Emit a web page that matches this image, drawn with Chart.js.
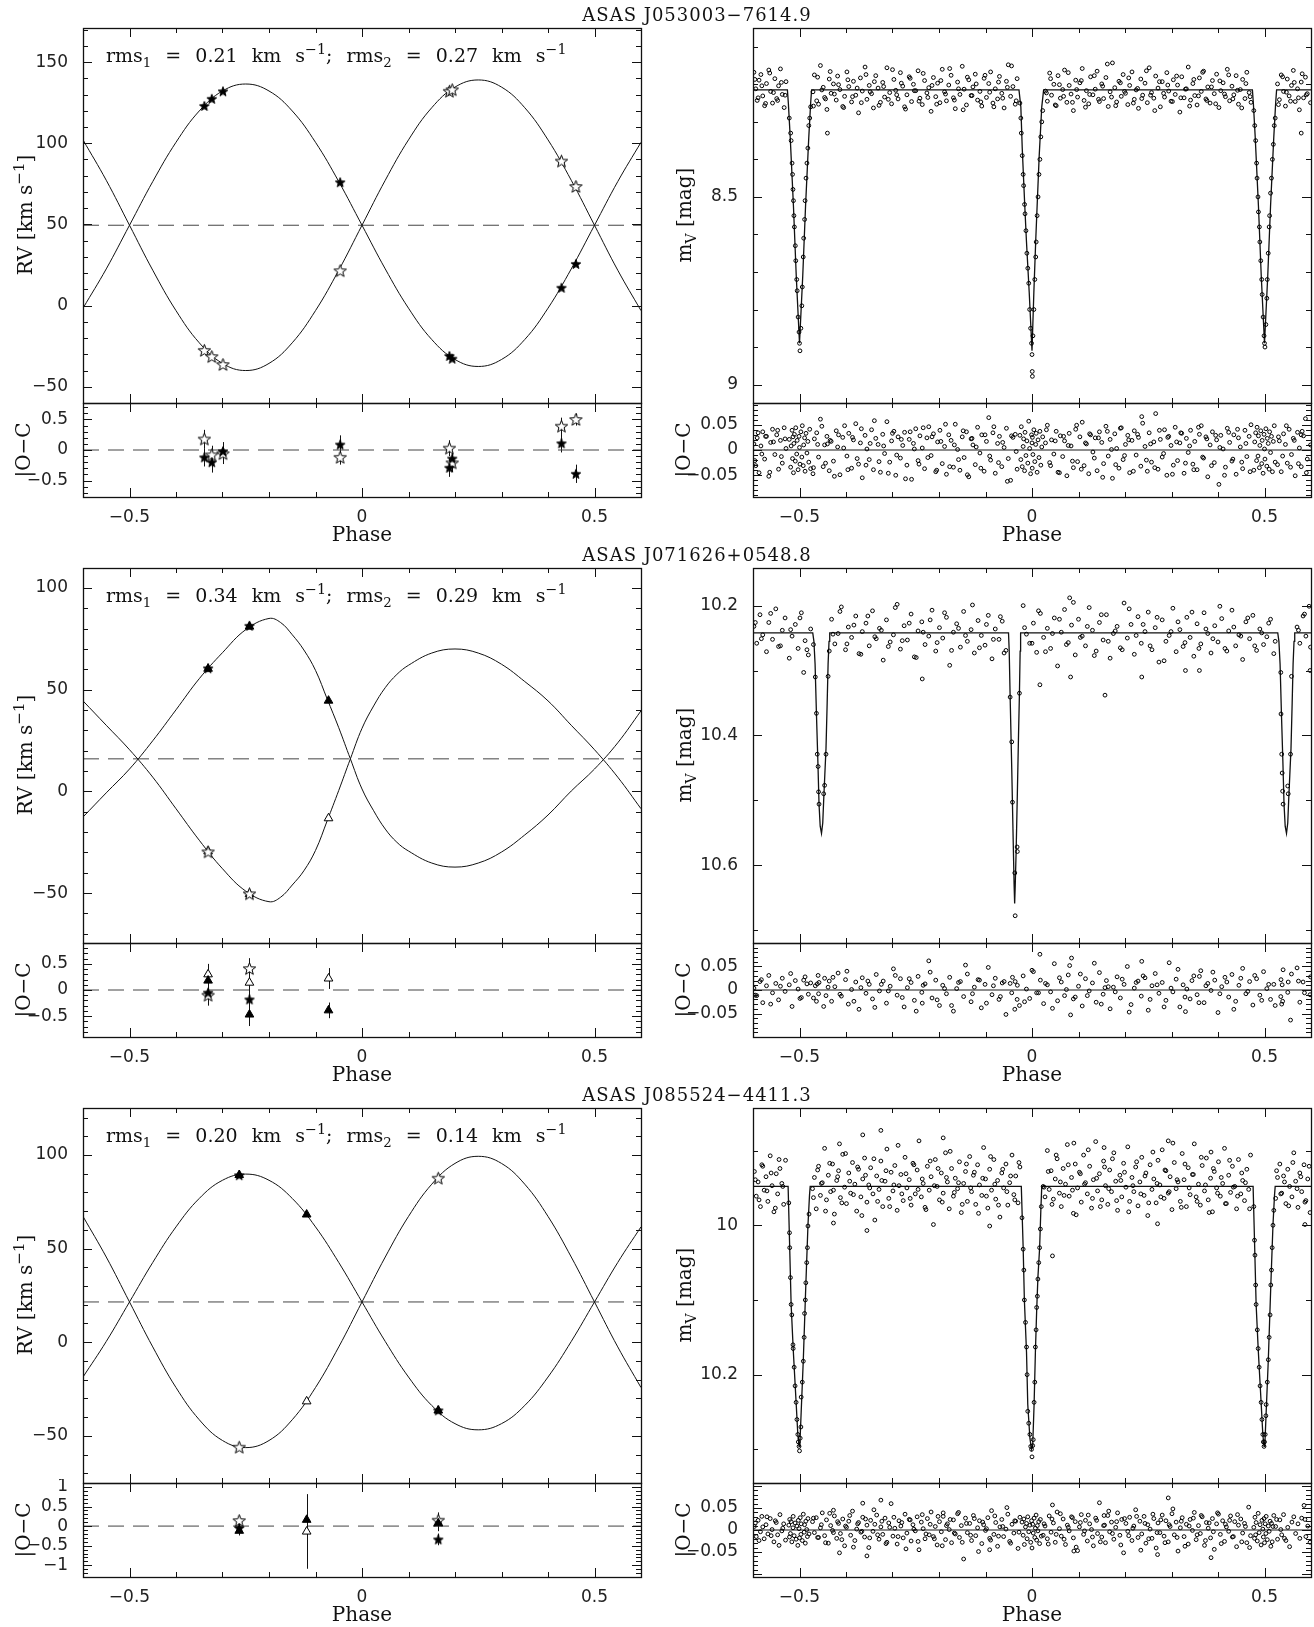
<!DOCTYPE html>
<html>
<head>
<meta charset="utf-8">
<script src="https://cdn.jsdelivr.net/npm/chart.js@4.4.0/dist/chart.umd.min.js"></script>
<style>
  html, body { margin: 0; padding: 0; background: #fff; }
  body { position: relative; width: 1314px; height: 1627px; overflow: hidden; color: #111; }
  canvas { position: absolute; }
  .lbl { position: absolute; white-space: nowrap; line-height: 1; font-family: "DejaVu Serif", serif; font-size: 20px;
         transform: translate(-50%, -50%); }
  .rot { transform: translate(-50%, -50%) rotate(-90deg); }
  .title { font-size: 18px; letter-spacing: 1px; }
  .rms { transform: none; font-size: 19px; word-spacing: 8px; }
  sup { font-size: 0.75em; vertical-align: 0.55em; line-height: 0; }
  sub { font-size: 0.7em; vertical-align: -0.35em; line-height: 0; }
</style>
</head>
<body>
<script>
// ---------------- data ----------------
// common phase axis
const phaseMin = -0.6, phaseMax = 0.6;
const phaseTicks = [-0.5, 0, 0.5];

// RV model grid (rows 1 and 3)
const rvGrid = [-0.6, -0.55, -0.5, -0.45, -0.4, -0.35, -0.3, -0.25, -0.2, -0.15, -0.1, -0.05, 0,
  0.05, 0.1, 0.15, 0.2, 0.25, 0.3, 0.35, 0.4, 0.45, 0.5, 0.55, 0.6];

// Row 1: ASAS J053003-7614.9
const rv1Gamma = 49.5;
const rv1ModelPrim = [-1.6, 22.6, 49.5, 76.4, 100.6, 119.9, 132.2, 136.5, 132.2, 119.9, 100.6, 76.4, 49.5,
  22.6, -1.6, -20.9, -33.2, -37.5, -33.2, -20.9, -1.6, 22.6, 49.5, 76.4, 100.6];
const rv1ModelSec = [102.1, 77.2, 49.5, 21.8, -3.1, -22.9, -35.6, -40, -35.6, -22.9, -3.1, 21.8, 49.5,
  77.2, 102.1, 121.9, 134.6, 139, 134.6, 121.9, 102.1, 77.2, 49.5, 21.8, -3.1];
const rv1ObsPhase = [-0.339, -0.323, -0.299, -0.047, 0.188, 0.194, 0.429, 0.46];
const rv1ObsPrim = [123, 127.4, 132, 76, -31, -32.7, 11, 25.7];
const rv1ObsSec = [-27.6, -31.4, -36.3, 21.5, 132, 133, 89, 73.4];
const rv1ResPrim = [-0.12, -0.2, -0.02, 0.09, -0.29, -0.14, 0.11, -0.39];
const rv1ResSec = [0.18, -0.08, -0.06, -0.12, 0.03, -0.21, 0.39, 0.5];
const rv1ErrPrim = [0.15, 0.17, 0.15, 0.15, 0.15, 0.12, 0.15, 0.15];
const rv1ErrSec = [0.15, 0.15, 0.17, 0.12, 0.13, 0.15, 0.14, 0.1];

const lc1ModelPhase = [-0.6, -0.526, -0.524, -0.52, -0.513, -0.507, -0.5, -0.493, -0.487, -0.48, -0.476, -0.474,
  -0.028, -0.024, -0.021, -0.0155, -0.012, -0.006, 0, 0.004, 0.008, 0.011, 0.0155, 0.021, 0.025,
  0.474, 0.476, 0.48, 0.487, 0.493, 0.5, 0.507, 0.513, 0.52, 0.524, 0.526, 0.6];
const lc1ModelMag = [8.215, 8.215, 8.25, 8.34, 8.525, 8.71, 8.89, 8.71, 8.525, 8.34, 8.25, 8.215,
  8.215, 8.26, 8.37, 8.525, 8.617, 8.754, 8.91, 8.754, 8.617, 8.525, 8.39, 8.26, 8.215,
  8.215, 8.25, 8.34, 8.525, 8.71, 8.89, 8.71, 8.525, 8.34, 8.25, 8.215, 8.215];
const lc1Phase = [-0.598, -0.594, -0.591, -0.587, -0.583, -0.579, -0.575, -0.571, -0.566, -0.562, -0.558, -0.553,
  -0.549, -0.545, -0.541, -0.537, -0.533, -0.529,
  -0.471, -0.468, -0.463, -0.459, -0.455, -0.449, -0.446, -0.441, -0.436, -0.432, -0.427, -0.421, -0.418, -0.413,
  -0.407, -0.403, -0.398, -0.394, -0.388, -0.384, -0.379, -0.373, -0.369, -0.365, -0.359, -0.355, -0.35, -0.345,
  -0.341, -0.336, -0.331, -0.326, -0.321, -0.317, -0.312, -0.306, -0.302, -0.297, -0.293, -0.288, -0.283, -0.278,
  -0.274, -0.269, -0.264, -0.259, -0.255, -0.25, -0.245, -0.241, -0.236, -0.231, -0.226, -0.222, -0.217, -0.212,
  -0.207, -0.203, -0.198, -0.193, -0.188, -0.184, -0.179, -0.174, -0.169, -0.165, -0.16, -0.155, -0.15, -0.146,
  -0.141, -0.136, -0.131, -0.127, -0.122, -0.117, -0.112, -0.108, -0.103, -0.098, -0.093, -0.089, -0.084, -0.079,
  -0.074, -0.07, -0.065, -0.06, -0.055, -0.051, -0.046, -0.041, -0.036, -0.032,
  0.029, 0.033, 0.038, 0.042, 0.047, 0.052, 0.056, 0.061, 0.066, 0.07, 0.075, 0.08, 0.084, 0.089, 0.094, 0.098,
  0.103, 0.108, 0.112, 0.117, 0.122, 0.126, 0.131, 0.136, 0.14, 0.145, 0.15, 0.154, 0.159, 0.164, 0.168, 0.173,
  0.178, 0.182, 0.187, 0.192, 0.196, 0.201, 0.206, 0.21, 0.215, 0.22, 0.224, 0.229, 0.234, 0.238, 0.243, 0.248,
  0.252, 0.257, 0.262, 0.266, 0.271, 0.276, 0.28, 0.285, 0.29, 0.294, 0.299, 0.304, 0.308, 0.313, 0.318, 0.322,
  0.327, 0.332, 0.336, 0.341, 0.346, 0.35, 0.355, 0.36, 0.364, 0.369, 0.374, 0.378, 0.383, 0.388, 0.392, 0.397,
  0.402, 0.406, 0.411, 0.416, 0.42, 0.425, 0.43, 0.434, 0.439, 0.444, 0.448, 0.453, 0.458, 0.462, 0.467, 0.471,
  0.528, 0.532, 0.536, 0.541, 0.545, 0.549, 0.553, 0.558, 0.562, 0.566, 0.571, 0.575, 0.579, 0.584, 0.588, 0.592, 0.597];
const lc1Mag = [8.168, 8.212, 8.243, 8.189, 8.174, 8.231, 8.257, 8.198, 8.162, 8.219, 8.250, 8.185, 8.238, 8.204, 8.159,
  8.227, 8.262, 8.193, 8.220, 8.175, 8.244, 8.253, 8.150, 8.208, 8.235, 8.267, 8.186, 8.224, 8.199, 8.242,
  8.178, 8.214, 8.259, 8.232, 8.167, 8.206, 8.247, 8.192, 8.229, 8.276, 8.183, 8.218, 8.154, 8.240, 8.203,
  8.225, 8.263, 8.177, 8.210, 8.248, 8.195, 8.234, 8.156, 8.222, 8.252, 8.187, 8.216, 8.239, 8.169, 8.205,
  8.260, 8.228, 8.180, 8.246, 8.200, 8.217, 8.164, 8.237, 8.254, 8.190, 8.223, 8.209, 8.272, 8.182, 8.233,
  8.197, 8.249, 8.160, 8.220, 8.244, 8.202, 8.176, 8.236, 8.265, 8.194, 8.227, 8.152, 8.213, 8.255, 8.188,
  8.230, 8.207, 8.173, 8.242, 8.219, 8.258, 8.184, 8.235, 8.198, 8.167, 8.250, 8.212, 8.239, 8.179, 8.224,
  8.263, 8.192, 8.148, 8.232, 8.206, 8.253, 8.185, 8.218, 8.245, 8.170, 8.229, 8.200, 8.257, 8.177, 8.237,
  8.214, 8.162, 8.248, 8.203, 8.226, 8.270, 8.189, 8.234, 8.196, 8.158, 8.243, 8.217, 8.252, 8.180, 8.228,
  8.213, 8.165, 8.246, 8.199, 8.238, 8.182, 8.259, 8.220, 8.143, 8.209, 8.247, 8.192, 8.232, 8.174, 8.224,
  8.254, 8.203, 8.167, 8.240, 8.215, 8.264, 8.186, 8.229, 8.197, 8.249, 8.156, 8.222, 8.237, 8.178, 8.210,
  8.260, 8.193, 8.234, 8.169, 8.218, 8.245, 8.188, 8.227, 8.202, 8.274, 8.180, 8.236, 8.212, 8.154, 8.242,
  8.198, 8.230, 8.255, 8.183, 8.219, 8.165, 8.239, 8.207, 8.250, 8.190, 8.225, 8.173, 8.262, 8.217, 8.196,
  8.233, 8.160, 8.244, 8.205, 8.228, 8.177, 8.253, 8.214, 8.187, 8.238, 8.168, 8.222, 8.248, 8.199,
  8.241, 8.175, 8.219, 8.258, 8.186, 8.231, 8.203, 8.163, 8.246, 8.212, 8.268, 8.194, 8.236, 8.181, 8.225];
const lc1Res = [0.012, -0.031, 0.024, -0.045, 0.008, 0.036, -0.018, 0.027, -0.052, 0.015, 0.041, -0.009, 0.030, -0.038, 0.019,
  -0.026, 0.044, 0.003, -0.047, 0.022, 0.034, -0.014, 0.061, -0.033, 0.010, 0.027, -0.041, 0.017, -0.022, 0.038,
  0.006, -0.049, 0.025, 0.048, -0.012, 0.033, -0.036, 0.020, 0.052, -0.028, 0.014, -0.055, 0.029, 0.002, -0.019,
  0.040, -0.039, 0.023, 0.011, -0.044, 0.031, -0.007, 0.056, -0.024, 0.018, 0.037, -0.050, 0.026, -0.016, 0.009,
  0.035, -0.030, 0.021, -0.058, 0.013, 0.042, -0.021, 0.028, 0.004, -0.037, 0.024, 0.046, -0.011, 0.032, -0.043,
  0.016, 0.039, -0.027, 0.007, -0.048, 0.030, 0.019, -0.034, 0.051, 0.001, -0.040, 0.026, -0.015, 0.036, -0.053,
  0.022, 0.010, -0.029, 0.045, -0.006, 0.030, -0.042, 0.017, 0.064, -0.020, 0.034, -0.046, 0.013, 0.027, -0.033,
  0.005, 0.043, -0.017, -0.060, 0.025, 0.031, -0.038, 0.014, 0.049, -0.025, 0.020, -0.008, 0.037, -0.044, 0.028,
  -0.013, 0.018, -0.051, 0.033, 0.008, -0.035, 0.041, -0.023, 0.026, 0.055, -0.031, 0.012, -0.047, 0.030, -0.004,
  0.024, -0.041, 0.036, 0.015, -0.027, 0.047, -0.012, 0.021, -0.056, 0.032, 0.003, -0.036, 0.044, -0.019, 0.011,
  0.029, -0.045, 0.019, 0.038, -0.010, 0.025, -0.032, 0.053, 0.007, -0.042, 0.034, -0.024, 0.016, 0.072, -0.038,
  0.021, -0.014, 0.040, -0.050, 0.027, 0.009, -0.030, 0.045, -0.021, 0.014, 0.033, -0.046, 0.023, -0.005, 0.039,
  -0.028, 0.017, -0.039, 0.031, 0.048, -0.016, 0.026, -0.053, 0.010, 0.036, -0.025, 0.020, -0.068, 0.029, 0.002,
  -0.034, 0.043, 0.015, -0.022, 0.030, -0.048, 0.024, 0.006, -0.037, 0.039, -0.013, 0.027, 0.050, -0.029,
  0.018, -0.043, 0.032, 0.011, -0.026, 0.041, -0.009, 0.023, -0.051, 0.035, 0.004, -0.033, 0.028, 0.062, -0.018];
// second observing season
const lc1PhaseB = [-0.596, -0.589, -0.581, -0.573, -0.564, -0.556, -0.547, -0.539, -0.531,
  -0.47, -0.461, -0.452, -0.444, -0.434, -0.425, -0.416, -0.405, -0.396, -0.386, -0.376, -0.367, -0.357, -0.348,
  -0.339, -0.329, -0.319, -0.309, -0.3, -0.291, -0.281, -0.272, -0.262, -0.253, -0.243, -0.234, -0.224, -0.215,
  -0.205, -0.196, -0.186, -0.177, -0.167, -0.158, -0.148, -0.139, -0.129, -0.12, -0.11, -0.101, -0.091, -0.082,
  -0.072, -0.063, -0.053, -0.044, -0.034,
  0.031, 0.04, 0.05, 0.059, 0.068, 0.078, 0.087, 0.096, 0.106, 0.115, 0.124, 0.134, 0.143, 0.152, 0.162, 0.171,
  0.18, 0.19, 0.199, 0.208, 0.218, 0.227, 0.236, 0.246, 0.255, 0.264, 0.274, 0.283, 0.292, 0.302, 0.311, 0.32,
  0.33, 0.339, 0.348, 0.358, 0.367, 0.376, 0.386, 0.395, 0.404, 0.414, 0.423, 0.432, 0.442, 0.451, 0.46, 0.469,
  0.53, 0.539, 0.547, 0.556, 0.564, 0.573, 0.581, 0.59, 0.599];
const lc1MagB = [8.187, 8.236, 8.204, 8.251, 8.170, 8.222, 8.243, 8.195, 8.229,
  8.258, 8.181, 8.215, 8.239, 8.166, 8.226, 8.201, 8.262, 8.188, 8.233, 8.210, 8.249, 8.174, 8.220, 8.193,
  8.256, 8.206, 8.240, 8.161, 8.228, 8.197, 8.266, 8.184, 8.217, 8.245, 8.171, 8.235, 8.203, 8.253, 8.190,
  8.226, 8.158, 8.242, 8.212, 8.268, 8.181, 8.230, 8.199, 8.247, 8.176, 8.221, 8.260, 8.194, 8.237, 8.208,
  8.151, 8.244,
  8.223, 8.185, 8.255, 8.201, 8.232, 8.169, 8.248, 8.214, 8.190, 8.261, 8.227, 8.177, 8.240, 8.205, 8.146,
  8.234, 8.257, 8.196, 8.219, 8.183, 8.250, 8.211, 8.238, 8.164, 8.229, 8.270, 8.193, 8.224, 8.202, 8.246,
  8.178, 8.236, 8.213, 8.258, 8.187, 8.231, 8.168, 8.243, 8.207, 8.252, 8.191, 8.226, 8.175, 8.239, 8.216,
  8.263, 8.198, 8.233,
  8.254, 8.180, 8.221, 8.245, 8.195, 8.236, 8.172, 8.228, 8.249];
const lc1ResB = [-0.021, 0.034, -0.008, 0.027, -0.044, 0.016, 0.039, -0.013, 0.022,
  -0.035, 0.011, 0.047, -0.026, 0.019, -0.052, 0.030, 0.004, -0.039, 0.025, -0.017, 0.042, -0.030, 0.013, 0.058,
  -0.023, 0.008, -0.046, 0.033, -0.010, 0.021, -0.057, 0.036, 0.002, -0.028, 0.044, -0.015, 0.026, -0.040, 0.017,
  0.051, -0.033, 0.010, -0.019, 0.038, -0.049, 0.023, 0.006, -0.036, 0.030, -0.012, 0.046, -0.025, 0.015, -0.062,
  0.028, -0.003,
  0.040, -0.031, 0.018, -0.045, 0.027, 0.009, -0.022, 0.049, -0.038, 0.014, 0.032, -0.016, 0.024, -0.054, 0.037,
  0.001, -0.029, 0.043, -0.011, 0.020, -0.042, 0.031, 0.066, -0.020, 0.012, -0.035, 0.039, -0.007, 0.025, -0.048,
  0.016, 0.034, -0.026, 0.008, -0.039, 0.045, -0.014, 0.022, -0.031, 0.029, 0.005, -0.050, 0.035, -0.018, 0.041,
  -0.024, 0.013, -0.043,
  0.026, -0.012, 0.048, -0.034, 0.019, -0.027, 0.037, -0.045, 0.010];
// points inside the eclipses and a few outliers
const lc1EclPhase = [-0.522, -0.519, -0.518, -0.516, -0.515, -0.514, -0.513, -0.512, -0.511, -0.509,
  -0.508, -0.506, -0.505, -0.503, -0.501, -0.5, -0.499, -0.497, -0.495, -0.494,
  -0.492, -0.491, -0.489, -0.488, -0.486, -0.484, -0.482, -0.48, -0.478, -0.476, -0.44,
  -0.026, -0.024, -0.023, -0.021, -0.019, -0.018, -0.016, -0.015, -0.013, -0.011,
  -0.009, -0.007, -0.005, -0.003, -0.001, 0, 0.0005, 0.0008, 0.002, 0.004,
  0.006, 0.008, 0.009, 0.011, 0.013, 0.015, 0.017, 0.019, 0.021, 0.023,
  0.477, 0.479, 0.481, 0.483, 0.484, 0.486, 0.487, 0.489, 0.49, 0.492,
  0.494, 0.495, 0.497, 0.499, 0.5, 0.501, 0.503, 0.505, 0.506, 0.508,
  0.51, 0.511, 0.513, 0.515, 0.517, 0.519, 0.521, 0.523, 0.579];
const lc1EclMag = [8.29, 8.33, 8.35, 8.41, 8.44, 8.48, 8.51, 8.55, 8.58, 8.63,
  8.67, 8.72, 8.75, 8.82, 8.86, 8.89, 8.91, 8.85, 8.79, 8.74,
  8.66, 8.61, 8.56, 8.51, 8.45, 8.41, 8.37, 8.31, 8.29, 8.26, 8.33,
  8.25, 8.29, 8.33, 8.39, 8.44, 8.47, 8.52, 8.545, 8.59, 8.65,
  8.69, 8.73, 8.80, 8.85, 8.89, 8.92, 8.965, 8.978, 8.87, 8.80,
  8.72, 8.66, 8.62, 8.55, 8.50, 8.44, 8.40, 8.34, 8.30, 8.27,
  8.27, 8.31, 8.35, 8.41, 8.45, 8.50, 8.54, 8.58, 8.62, 8.67,
  8.72, 8.76, 8.82, 8.87, 8.89, 8.90, 8.84, 8.77, 8.72, 8.65,
  8.58, 8.55, 8.49, 8.45, 8.40, 8.36, 8.31, 8.29, 8.33];
const lc1EclRes = [0.021, -0.034, 0.008, 0.039, -0.017, 0.026, -0.045, 0.013, 0.031, -0.022,
  0.044, -0.008, 0.019, -0.039, 0.027, 0.005, -0.028, 0.036, -0.014, 0.048,
  -0.031, 0.010, 0.024, -0.042, 0.033, -0.006, 0.017, -0.024, 0.041, -0.037, 0.012,
  0.029, -0.019, 0.046, -0.033, 0.007, 0.022, -0.041, 0.035, -0.011, 0.018,
  -0.026, 0.057, 0.003, -0.047, 0.030, 0.014, -0.036, 0.025, -0.009, 0.040,
  -0.023, 0.011, 0.033, -0.044, 0.020, -0.015, 0.037, -0.030, 0.006, 0.026,
  -0.040, 0.016, 0.034, -0.021, 0.045, -0.012, 0.028, -0.035, 0.009, 0.038,
  -0.027, 0.019, -0.046, 0.031, 0.002, -0.018, 0.042, -0.032, 0.023, 0.013,
  -0.038, 0.036, -0.005, 0.027, -0.043, 0.017, 0.048, -0.024, 0.030];

// Row 2: ASAS J071626+0548.8
const rv2Gamma = 16;
const rv2Grid = [-0.6, -0.55, -0.5, -0.45, -0.4, -0.35, -0.3, -0.25, -0.2, -0.175, -0.15, -0.125, -0.1, -0.075,
  -0.05, -0.025, 0, 0.025, 0.05, 0.075, 0.1, 0.15, 0.2, 0.25, 0.3, 0.35, 0.4, 0.45, 0.5, 0.55, 0.6];
const rv2ModelPrim = [-12.6, -0.7, 11, 24.9, 40.1, 55.4, 68.2, 79.5, 85, 83, 77, 69.5, 59.5, 45.5,
  31.3, 16, 1.2, -9.5, -18.5, -25, -29.3, -35.2, -37.2, -35.2, -29.8, -21.4, -11.6, 0.2, 11, 23.9, 39.6];
const rv2ModelSec = [44.5, 32.5, 20.5, 7, -8.5, -24, -38, -49, -54.2, -52, -46, -39, -29, -14.5,
  0.5, 16, 31, 42, 51, 57.5, 62, 68, 70, 68, 62.5, 54, 44.5, 32.5, 20.5, 7, -8.5];
const rv2StarPhase = [-0.331, -0.242];
const rv2StarPrim = [60.5, 81.4];
const rv2StarSec = [-29.7, -50.3];
const rv2StarResPrim = [-0.05, -0.18];
const rv2StarResSec = [-0.1, 0.41];
const rv2TriPhase = [-0.331, -0.242, -0.072];
const rv2TriPrim = [60.3, 81.0, 44.6];
const rv2TriSec = [-29.5, -50.5, -13.2];
const rv2TriResPrim = [0.18, -0.47, -0.39];
const rv2TriResSec = [0.3, 0.14, 0.22];
const rv2ErrStar = [0.2, 0.2];
const rv2ErrTriPrim = [0.2, 0.22, 0.15];
const rv2ErrTriSec = [0.2, 0.2, 0.2];

const lc2ModelPhase = [-0.6, -0.4715, -0.469, -0.4665, -0.4636, -0.4605, -0.458, -0.4555, -0.4527, -0.45, -0.448,
  -0.4455, -0.443, -0.4405, -0.4385, -0.4365, -0.435,
  -0.0505, -0.049, -0.047, -0.0436, -0.0405, -0.0385, -0.0373, -0.036, -0.034, -0.0315, -0.029, -0.027, -0.0255, -0.0245,
  0.5285, 0.531, 0.5335, 0.5364, 0.5395, 0.542, 0.5445, 0.5473, 0.55, 0.552, 0.5545, 0.557, 0.5595, 0.5615, 0.5635, 0.565, 0.6];
const lc2ModelMag = [10.242, 10.242, 10.255, 10.29, 10.366, 10.44, 10.506, 10.54, 10.551, 10.535, 10.50,
  10.46, 10.42, 10.35, 10.29, 10.255, 10.242,
  10.242, 10.27, 10.341, 10.45, 10.56, 10.63, 10.659, 10.63, 10.575, 10.49, 10.40, 10.335, 10.27, 10.242,
  10.242, 10.255, 10.29, 10.366, 10.44, 10.506, 10.54, 10.551, 10.535, 10.50, 10.46, 10.42, 10.35, 10.29, 10.255, 10.242, 10.242];
const lc2Phase = [-0.598, -0.592, -0.585, -0.579, -0.571, -0.566, -0.558, -0.551, -0.545, -0.537, -0.531, -0.522,
  -0.516, -0.509, -0.503, -0.496, -0.488, -0.481, -0.476,
  -0.431, -0.424, -0.417, -0.41, -0.401, -0.395, -0.388, -0.379, -0.372, -0.365, -0.357, -0.35, -0.343, -0.335,
  -0.328, -0.32, -0.313, -0.305, -0.298, -0.29, -0.283, -0.275, -0.268, -0.26, -0.253, -0.245, -0.237, -0.23,
  -0.222, -0.215, -0.207, -0.199, -0.192, -0.184, -0.177, -0.169, -0.162, -0.154, -0.147, -0.139, -0.131, -0.124,
  -0.116, -0.109, -0.101, -0.094, -0.086, -0.079, -0.071, -0.064, -0.056,
  -0.019, -0.012, -0.005, 0.003, 0.01, 0.018, 0.025, 0.033, 0.04, 0.048, 0.055, 0.063, 0.07, 0.078, 0.085, 0.093,
  0.1, 0.108, 0.115, 0.123, 0.13, 0.138, 0.145, 0.153, 0.16, 0.168, 0.175, 0.183, 0.19, 0.198, 0.205, 0.213, 0.22,
  0.228, 0.235, 0.243, 0.25, 0.258, 0.265, 0.273, 0.28, 0.288, 0.295, 0.303, 0.31, 0.318, 0.325, 0.333, 0.34,
  0.348, 0.355, 0.363, 0.37, 0.378, 0.385, 0.393, 0.4, 0.408, 0.415, 0.423, 0.43, 0.438, 0.445, 0.453, 0.46,
  0.468, 0.475, 0.483, 0.49, 0.498, 0.505, 0.513, 0.52,
  0.57, 0.576, 0.583, 0.589, 0.596];
const lc2Mag = [10.232, 10.258, 10.214, 10.245, 10.271, 10.226, 10.252, 10.205, 10.263, 10.238, 10.219, 10.281,
  10.247, 10.229, 10.266, 10.211, 10.254, 10.276, 10.236,
  10.221, 10.259, 10.243, 10.202, 10.268, 10.233, 10.249, 10.216, 10.274, 10.240, 10.227, 10.262, 10.208, 10.251,
  10.235, 10.284, 10.222, 10.256, 10.245, 10.198, 10.267, 10.231, 10.253, 10.213, 10.279, 10.239, 10.225, 10.260,
  10.247, 10.207, 10.270, 10.234, 10.250, 10.218, 10.292, 10.241, 10.228, 10.264, 10.209, 10.255, 10.237, 10.273,
  10.223, 10.246, 10.261, 10.215, 10.282, 10.236, 10.252, 10.224, 10.269,
  10.200, 10.244, 10.258, 10.227, 10.272, 10.212, 10.249, 10.235, 10.266, 10.219, 10.293, 10.241, 10.206, 10.257,
  10.230, 10.276, 10.221, 10.247, 10.262, 10.203, 10.238, 10.270, 10.226, 10.253, 10.214, 10.281, 10.243, 10.232,
  10.265, 10.196, 10.250, 10.229, 10.275, 10.217, 10.258, 10.240, 10.210, 10.268, 10.234, 10.287, 10.222, 10.255,
  10.246, 10.204, 10.271, 10.237, 10.263, 10.218, 10.249, 10.278, 10.228, 10.259, 10.211, 10.243, 10.273, 10.231,
  10.256, 10.220, 10.266, 10.239, 10.207, 10.262, 10.245, 10.283, 10.225, 10.251, 10.215, 10.269, 10.236, 10.260,
  10.248, 10.221, 10.274,
  10.233, 10.258, 10.216, 10.247, 10.201];
const lc2Res = [0.004, -0.012, 0.018, -0.027, 0.009, 0.031, -0.006, 0.014, -0.021, 0.025, -0.003, 0.011, -0.035,
  0.020, 0.002, -0.016, 0.028, -0.009, 0.015,
  -0.024, 0.007, 0.036, -0.013, 0.022, -0.030, 0.001, 0.017, -0.041, 0.026, -0.007, 0.012, -0.019, 0.033, -0.002,
  0.019, -0.028, 0.008, 0.045, -0.011, 0.024, -0.036, 0.005, 0.016, -0.022, 0.029, -0.005, 0.013, 0.062, -0.017,
  0.021, -0.033, 0.010, -0.008, 0.027, -0.045, 0.003, 0.018, -0.014, 0.034, -0.025, 0.006, 0.022, -0.038, 0.012,
  0.048, -0.010, 0.025, -0.020, 0.015, -0.052, 0.030,
  0.002, -0.018, 0.039, -0.006, 0.021, -0.029, 0.011, -0.004, 0.056, -0.023, 0.017, -0.012, 0.032, 0.068, -0.015,
  0.008, -0.034, 0.024, -0.002, 0.015, -0.026, 0.037, -0.009, 0.020, -0.040, 0.006, 0.028, -0.017, 0.012, 0.050,
  -0.031, 0.004, 0.019, -0.013, 0.026, -0.043, 0.009, 0.035, -0.007, 0.016, -0.022, 0.058, -0.004, 0.023, -0.036,
  0.011, 0.002, -0.019, 0.030, -0.010, 0.041, -0.027, 0.014, -0.001, 0.021, -0.048, 0.007, 0.027, -0.015, 0.033,
  -0.024, 0.010, 0.046, -0.008, 0.018, -0.032, 0.024, -0.011, 0.039, 0.003,
  -0.020, 0.012, 0.047, -0.026, 0.017];
const lc2PhaseB = [-0.595, -0.582, -0.562, -0.541, -0.519, -0.499, -0.484,
  -0.428, -0.413, -0.398, -0.383, -0.368, -0.353, -0.338, -0.324, -0.309, -0.294, -0.279, -0.264, -0.249, -0.234,
  -0.219, -0.204, -0.188, -0.173, -0.158, -0.143, -0.128, -0.113, -0.098, -0.083, -0.068, -0.06,
  -0.016, 0.0, 0.014, 0.029, 0.044, 0.059, 0.074, 0.089, 0.104, 0.119, 0.134, 0.149, 0.164, 0.179, 0.194, 0.209,
  0.224, 0.239, 0.254, 0.269, 0.284, 0.299, 0.314, 0.329, 0.344, 0.359, 0.374, 0.389, 0.404, 0.419, 0.434, 0.449,
  0.464, 0.479, 0.494, 0.509, 0.523,
  0.573, 0.586, 0.599];
const lc2MagB = [10.226, 10.251, 10.212, 10.262, 10.237, 10.219, 10.268,
  10.244, 10.209, 10.259, 10.230, 10.275, 10.216, 10.248, 10.238, 10.263, 10.203, 10.254, 10.227, 10.280, 10.241,
  10.222, 10.257, 10.211, 10.269, 10.235, 10.246, 10.199, 10.265, 10.229, 10.252, 10.217, 10.273,
  10.234, 10.258, 10.208, 10.271, 10.243, 10.221, 10.260, 10.195, 10.249, 10.232, 10.277, 10.214, 10.255, 10.239,
  10.268, 10.205, 10.246, 10.229, 10.262, 10.218, 10.285, 10.240, 10.225, 10.257, 10.210, 10.266, 10.236, 10.251,
  10.201, 10.270, 10.233, 10.247, 10.219, 10.262, 10.242, 10.227, 10.255,
  10.238, 10.213, 10.264];
const lc2ResB = [-0.011, 0.022, -0.030, 0.008, 0.035, -0.018, 0.013,
  0.027, -0.009, 0.040, -0.024, 0.005, 0.019, -0.037, 0.012, -0.002, 0.031, -0.016, 0.024, -0.045, 0.010, 0.038,
  -0.021, 0.003, -0.033, 0.016, 0.053, -0.008, 0.021, -0.028, 0.009, -0.014,
  0.018, -0.025, 0.042, -0.006, 0.014, -0.039, 0.026, 0.001, -0.019, 0.034, -0.012, 0.057, -0.030, 0.007, -0.004,
  0.023, -0.047, 0.016, 0.030, -0.020, 0.011, -0.036, 0.004, 0.044, -0.015, 0.020, -0.027, 0.009, 0.038, -0.008,
  0.017, -0.041, 0.025, -0.003, 0.031, -0.022, 0.012, -0.033,
  0.019, -0.006, 0.028];
const lc2EclPhase = [-0.491, -0.470, -0.466, -0.4636, -0.4618, -0.4600, -0.4590, -0.4580, -0.4480, -0.4460, -0.4430,
  -0.4385, -0.436,
  -0.236, -0.047, -0.0436, -0.042, -0.037, -0.0362, -0.032, -0.0315, -0.027,
  0.017, 0.081, 0.083, 0.157, 0.236, 0.33, 0.36,
  0.535, 0.5355, 0.537, 0.538, 0.539, 0.540, 0.550, 0.551, 0.556, 0.558, 0.598];
const lc2EclMag = [10.303, 10.26, 10.31, 10.366, 10.429, 10.448, 10.487, 10.506, 10.49, 10.477, 10.429,
  10.309, 10.27,
  10.313, 10.341, 10.41, 10.503, 10.612, 10.678, 10.572, 10.579, 10.335,
  10.322, 10.188, 10.31, 10.338, 10.31, 10.30, 10.30,
  10.303, 10.367, 10.429, 10.458, 10.486, 10.506, 10.478, 10.49, 10.429, 10.309, 10.30];
const lc2EclRes = [0.021, -0.017, 0.009, -0.024, 0.013, 0.031, -0.008, 0.016, -0.035, 0.025, -0.012, 0.006, 0.019,
  -0.028, 0.014, -0.006, 0.027, -0.041, 0.018, -0.020, 0.010, -0.033,
  0.076, 0.052, -0.053, 0.005, 0.061, -0.046, 0.029,
  -0.014, 0.022, -0.030, 0.011, -0.024, 0.043, -0.005, 0.017, -0.064, 0.034, -0.010];

// Row 3: ASAS J085524-4411.3
const rv3Gamma = 21.5;
const rv3ModelPrim = [-18.6, 0.4, 21.5, 42.6, 61.6, 76.8, 86.5, 89.8, 86.5, 76.8, 61.6, 42.6, 21.5,
  0.4, -18.6, -33.8, -43.5, -46.8, -43.5, -33.8, -18.6, 0.4, 21.5, 42.6, 61.6];
const rv3ModelSec = [67.2, 45.5, 21.5, -2.5, -24.2, -41.4, -52.5, -56.3, -52.5, -41.4, -24.2, -2.5, 21.5,
  45.5, 67.2, 84.4, 95.5, 99.3, 95.5, 84.4, 67.2, 45.5, 21.5, -2.5, -24.2];
const rv3StarPhasePrim = [-0.264, 0.164];
const rv3StarPrim = [89.2, -36.4];
const rv3StarResPrim = [-0.05, -0.34];
const rv3StarErrPrim = [0.15, 0.15];
const rv3StarPhaseSec = [-0.264, 0.164];
const rv3StarSec = [-56.1, 87.6];
const rv3StarResSec = [0.14, 0.15];
const rv3StarErrSec = [0.12, 0.2];
const rv3TriPhasePrim = [-0.264, -0.119, 0.164];
const rv3TriPrim = [89.3, 68.2, -36.5];
const rv3TriResPrim = [-0.12, 0.16, 0.07];
const rv3TriErrPrim = [0.12, 0.65, 0.2];
const rv3TriPhaseSec = [-0.119];
const rv3TriSec = [-31.6];
const rv3TriResSec = [-0.14];
const rv3TriErrSec = [0.95];

const lc3ModelPhase = [-0.6, -0.5245, -0.5215, -0.518, -0.5136, -0.5073, -0.5036, -0.501, -0.499, -0.4964, -0.4918,
  -0.4864, -0.4818, -0.4785, -0.477,
  -0.023, -0.019, -0.0164, -0.0118, -0.0091, -0.0045, -0.001, 0.0015, 0.0045, 0.0073, 0.01, 0.0127, 0.0164, 0.019, 0.021,
  0.4755, 0.4785, 0.482, 0.4864, 0.4927, 0.4964, 0.499, 0.501, 0.5036, 0.5082, 0.5136, 0.5182, 0.5215, 0.523, 0.6];
const lc3ModelMag = [9.948, 9.948, 10.02, 10.106, 10.165, 10.237, 10.28, 10.296, 10.29, 10.25, 10.18,
  10.08, 10.0, 9.96, 9.948,
  9.948, 10.03, 10.10, 10.17, 10.24, 10.285, 10.30, 10.295, 10.24, 10.17, 10.115, 10.07, 10.03, 9.98, 9.948,
  9.948, 10.02, 10.106, 10.165, 10.237, 10.28, 10.296, 10.29, 10.25, 10.18, 10.08, 10.0, 9.96, 9.948, 9.948];
const lc3Phase = [-0.597, -0.593, -0.589, -0.584, -0.581, -0.576, -0.572, -0.568, -0.563, -0.559, -0.555, -0.55,
  -0.547, -0.542, -0.538, -0.534, -0.53,
  -0.472, -0.468, -0.464, -0.459, -0.455, -0.451, -0.446, -0.442, -0.438, -0.433, -0.429, -0.425, -0.42, -0.416,
  -0.412, -0.407, -0.403, -0.399, -0.394, -0.39, -0.386, -0.381, -0.377, -0.373, -0.368, -0.364, -0.36, -0.355,
  -0.351, -0.347, -0.342, -0.338, -0.334, -0.329, -0.325, -0.321, -0.316, -0.312, -0.308, -0.303, -0.299, -0.295,
  -0.29, -0.286, -0.282, -0.277, -0.273, -0.269, -0.264, -0.26, -0.256, -0.251, -0.247, -0.243, -0.238, -0.234,
  -0.23, -0.225, -0.221, -0.217, -0.212, -0.208, -0.204, -0.199, -0.195, -0.191, -0.186, -0.182, -0.178, -0.173,
  -0.169, -0.165, -0.16, -0.156, -0.152, -0.147, -0.143, -0.139, -0.134, -0.13, -0.126, -0.121, -0.117, -0.113,
  -0.108, -0.104, -0.1, -0.095, -0.091, -0.087, -0.082, -0.078, -0.074, -0.069, -0.065, -0.061, -0.056, -0.052,
  -0.048, -0.043, -0.039, -0.035, -0.03, -0.026,
  0.024, 0.028, 0.033, 0.037, 0.041, 0.046, 0.05, 0.054, 0.059, 0.063, 0.067, 0.072, 0.076, 0.08, 0.085, 0.089,
  0.093, 0.098, 0.102, 0.106, 0.111, 0.115, 0.119, 0.124, 0.128, 0.132, 0.137, 0.141, 0.145, 0.15, 0.154, 0.158,
  0.163, 0.167, 0.171, 0.176, 0.18, 0.184, 0.189, 0.193, 0.197, 0.202, 0.206, 0.21, 0.215, 0.219, 0.223, 0.228,
  0.232, 0.236, 0.241, 0.245, 0.249, 0.254, 0.258, 0.262, 0.267, 0.271, 0.275, 0.28, 0.284, 0.288, 0.293, 0.297,
  0.301, 0.306, 0.31, 0.314, 0.319, 0.323, 0.327, 0.332, 0.336, 0.34, 0.345, 0.349, 0.353, 0.358, 0.362, 0.366,
  0.371, 0.375, 0.379, 0.384, 0.388, 0.392, 0.397, 0.401, 0.405, 0.41, 0.414, 0.418, 0.423, 0.427, 0.431, 0.436,
  0.44, 0.444, 0.449, 0.453, 0.457, 0.462, 0.466, 0.47,
  0.524, 0.528, 0.533, 0.537, 0.541, 0.546, 0.55, 0.554, 0.559, 0.563, 0.567, 0.572, 0.576, 0.58, 0.585, 0.589,
  0.593, 0.598];
const lc3Mag = [9.928, 9.961, 9.942, 9.975, 9.919, 9.953, 9.935, 9.968, 9.907, 9.947, 9.982, 9.931, 9.958, 9.924,
  9.944, 9.972, 9.913,
  9.951, 9.936, 9.978, 9.921, 9.960, 9.943, 9.897, 9.966, 9.933, 9.955, 9.918, 9.985, 9.940, 9.927, 9.963, 9.905,
  9.949, 9.971, 9.930, 9.957, 9.916, 9.945, 9.981, 9.925, 9.962, 9.938, 9.910, 9.969, 9.946, 9.923, 9.958, 9.993,
  9.934, 9.952, 9.914, 9.975, 9.941, 9.898, 9.964, 9.929, 9.954, 9.920, 9.980, 9.947, 9.932, 9.967, 9.909, 9.950,
  9.939, 9.973, 9.917, 9.958, 9.926, 9.887, 9.962, 9.944, 9.976, 9.921, 9.953, 9.935, 9.999, 9.912, 9.948, 9.966,
  9.930, 9.957, 9.903, 9.942, 9.978, 9.924, 9.961, 9.937, 9.951, 9.915, 9.983, 9.944, 9.928, 9.968, 9.908, 9.955,
  9.933, 9.972, 9.919, 9.946, 9.960, 9.896, 9.938, 9.977, 9.925, 9.953, 9.912, 9.965, 9.940, 9.989, 9.930, 9.950,
  9.918, 9.973, 9.943, 9.906, 9.959, 9.934, 9.970, 9.922, 9.948, 9.962,
  9.900, 9.952, 9.927, 9.965, 9.938, 9.911, 9.957, 9.975, 9.924, 9.945, 9.892, 9.961, 9.936, 9.984, 9.918, 9.950,
  9.929, 9.969, 9.906, 9.943, 9.958, 9.921, 9.977, 9.939, 9.888, 9.954, 9.931, 9.966, 9.914, 9.947, 9.972, 9.926,
  9.955, 9.903, 9.941, 9.980, 9.933, 9.962, 9.917, 9.949, 9.895, 9.968, 9.936, 9.955, 9.922, 9.974, 9.942, 9.909,
  9.960, 9.930, 9.987, 9.919, 9.952, 9.938, 9.970, 9.913, 9.946, 9.899, 9.964, 9.927, 9.957, 9.935, 9.979, 9.916,
  9.951, 9.942, 9.968, 9.904, 9.939, 9.975, 9.923, 9.959, 9.932, 9.891, 9.962, 9.945, 9.973, 9.920, 9.954, 9.910,
  9.966, 9.937, 9.982, 9.928, 9.950, 9.915, 9.961, 9.944, 9.897, 9.971, 9.933, 9.956, 9.921, 9.948, 9.978, 9.912,
  9.958, 9.940, 9.967, 9.925, 9.952, 9.906, 9.964, 9.936,
  9.918, 9.957, 9.934, 9.971, 9.925, 9.948, 9.962, 9.903, 9.941, 9.976, 9.930, 9.955, 9.919, 9.967, 9.938, 9.983,
  9.946, 9.912];
const lc3Res = [0.008, -0.015, 0.022, -0.004, 0.031, -0.020, 0.012, -0.009, 0.026, 0.001, -0.027, 0.017, -0.011,
  0.035, -0.002, 0.014, -0.023,
  0.019, -0.006, 0.028, -0.017, 0.005, 0.039, -0.013, 0.023, -0.030, 0.010, -0.001, 0.032, -0.019, 0.015, -0.008,
  0.025, -0.036, 0.006, 0.020, -0.012, 0.043, -0.024, 0.002, 0.017, -0.005, 0.029, -0.016, 0.011, -0.040, 0.022,
  -0.003, 0.013, 0.034, -0.021, 0.007, -0.010, 0.027, -0.028, 0.016, 0.060, -0.014, 0.004, -0.032, 0.021, 0.009,
  -0.018, 0.036, -0.007, 0.024, -0.025, 0.012, -0.002, 0.030, -0.045, 0.018, 0.003, -0.020, 0.026, -0.011, 0.041,
  -0.015, 0.008, -0.034, 0.019, -0.004, 0.031, -0.022, 0.014, 0.001, -0.029, 0.023, -0.009, 0.037, -0.017, 0.010,
  -0.066, 0.027, -0.006, 0.015, -0.024, 0.033, -0.013, 0.005, 0.021, -0.031, 0.012, -0.001, 0.028, -0.019, 0.044,
  -0.010, 0.017, -0.037, 0.007, 0.024, -0.015, 0.002, 0.036, -0.026, 0.013, -0.007, 0.020, -0.042, 0.029, -0.012, 0.009,
  -0.020, 0.032, -0.005, 0.016, -0.028, 0.041, 0.003, -0.014, 0.025, -0.033, 0.011, -0.002, 0.030, -0.018, 0.019,
  -0.047, 0.007, 0.035, -0.010, 0.022, -0.025, 0.014, 0.001, -0.036, 0.027, -0.008, 0.062, -0.016, 0.010, -0.029,
  0.033, -0.004, 0.018, -0.021, 0.006, 0.039, -0.012, 0.024, -0.052, 0.015, -0.003, 0.029, -0.024, 0.009, 0.046,
  -0.017, 0.020, -0.009, 0.031, -0.030, 0.012, 0.002, -0.019, 0.026, -0.041, 0.016, -0.006, 0.034, -0.014, 0.021,
  -0.027, 0.008, 0.037, -0.011, 0.018, -0.048, 0.005, 0.028, -0.015, 0.013, -0.032, 0.024, -0.001, 0.040, -0.022,
  0.010, -0.008, 0.030, -0.035, 0.017, 0.004, -0.018, 0.026, -0.044, 0.014, 0.036, -0.010, 0.021, -0.026, 0.007,
  -0.003, 0.032, -0.016, 0.019, -0.038, 0.011, 0.025, -0.007, 0.015, -0.029, 0.052, -0.013, 0.008, -0.021,
  0.023, -0.011, 0.035, -0.024, 0.006, -0.038, 0.018, 0.030, -0.008, 0.014, -0.019, 0.027, 0.056, -0.015, 0.009,
  -0.028, 0.020, -0.004];
const lc3PhaseB = [-0.595, -0.587, -0.579, -0.57, -0.561, -0.552, -0.544, -0.536,
  -0.47, -0.461, -0.453, -0.444, -0.435, -0.427, -0.418, -0.409, -0.401, -0.392, -0.384, -0.375, -0.366, -0.358,
  -0.349, -0.34, -0.332, -0.323, -0.314, -0.306, -0.297, -0.288, -0.28, -0.271, -0.262, -0.254, -0.245, -0.236,
  -0.228, -0.219, -0.21, -0.202, -0.193, -0.184, -0.176, -0.167, -0.158, -0.15, -0.141, -0.132, -0.124, -0.115,
  -0.106, -0.098, -0.089, -0.08, -0.072, -0.063, -0.054, -0.046, -0.037, -0.028,
  0.026, 0.035, 0.043, 0.052, 0.061, 0.069, 0.078, 0.087, 0.095, 0.104, 0.113, 0.121, 0.13, 0.139, 0.147, 0.156,
  0.165, 0.173, 0.182, 0.191, 0.199, 0.208, 0.217, 0.225, 0.234, 0.243, 0.251, 0.26, 0.269, 0.277, 0.286, 0.295,
  0.303, 0.312, 0.321, 0.329, 0.338, 0.347, 0.355, 0.364, 0.373, 0.381, 0.39, 0.399, 0.407, 0.416, 0.425, 0.433,
  0.442, 0.451, 0.459, 0.468,
  0.526, 0.535, 0.543, 0.552, 0.561, 0.57, 0.578, 0.587, 0.596];
const lc3MagB = [9.939, 9.966, 9.921, 9.954, 9.930, 9.977, 9.912, 9.948,
  9.963, 9.926, 9.944, 9.981, 9.917, 9.953, 9.935, 9.970, 9.904, 9.941, 9.959, 9.922, 9.987, 9.933, 9.950, 9.911,
  9.968, 9.940, 9.927, 9.975, 9.946, 9.893, 9.958, 9.931, 9.964, 9.919, 9.952, 9.938, 9.979, 9.914, 9.947, 9.924,
  9.969, 9.936, 9.901, 9.956, 9.943, 9.972, 9.918, 9.950, 9.929, 9.984, 9.937, 9.961, 9.908, 9.945, 9.973, 9.925,
  9.955, 9.934, 9.966, 9.916,
  9.949, 9.928, 9.972, 9.906, 9.942, 9.960, 9.919, 9.953, 9.986, 9.931, 9.945, 9.899, 9.964, 9.937, 9.975, 9.922,
  9.951, 9.911, 9.967, 9.940, 9.929, 9.982, 9.947, 9.915, 9.958, 9.934, 9.970, 9.902, 9.944, 9.962, 9.926, 9.955,
  9.890, 9.939, 9.976, 9.918, 9.950, 9.932, 9.968, 9.909, 9.946, 9.983, 9.924, 9.957, 9.936, 9.971, 9.913, 9.949,
  9.961, 9.930, 9.943, 9.978,
  9.927, 9.958, 9.942, 9.974, 9.916, 9.951, 9.935, 9.969, 9.921];
const lc3ResB = [0.016, -0.024, 0.007, 0.030, -0.013, 0.021, -0.035, 0.004,
  0.027, -0.017, 0.012, -0.029, 0.038, -0.006, 0.019, -0.022, 0.009, 0.033, -0.039, 0.014, -0.003, 0.025, -0.018,
  0.046, -0.011, 0.020, -0.031, 0.006, 0.029, -0.015, 0.017, -0.043, 0.023, 0.002, -0.026, 0.035, -0.009, 0.013,
  -0.020, 0.031, -0.036, 0.010, 0.024, -0.007, 0.040, -0.028, 0.015, -0.012, 0.026, -0.049, 0.018, 0.003, -0.023,
  0.032, -0.014, 0.008, 0.051, -0.030, 0.021, -0.005,
  0.014, -0.032, 0.025, -0.010, 0.037, -0.021, 0.006, 0.028, -0.039, 0.017, -0.002, 0.034, -0.016, 0.022, -0.027,
  0.011, 0.043, -0.008, 0.019, -0.034, 0.026, -0.013, 0.004, 0.031, -0.046, 0.015, -0.020, 0.036, -0.006, 0.023,
  -0.029, 0.012, 0.048, -0.017, 0.020, -0.037, 0.009, 0.027, -0.011, 0.033, -0.024, 0.016, -0.004, 0.039, -0.031,
  0.013,
  0.022, -0.015, 0.035, -0.027, 0.008, -0.040, 0.024, 0.001, -0.019];
const lc3EclPhase = [-0.523, -0.5215, -0.521, -0.5195, -0.518, -0.5165, -0.514, -0.5136, -0.5115, -0.5095,
  -0.5073, -0.5055, -0.5036, -0.5025, -0.501, -0.5, -0.4985, -0.497, -0.4964, -0.494,
  -0.4918, -0.49, -0.4891, -0.4875, -0.4864, -0.4845, -0.483, -0.4818, -0.4795,
  -0.0215, -0.019, -0.0175, -0.0164, -0.014, -0.0118, -0.0105, -0.0091, -0.007, -0.0045,
  -0.0027, -0.001, 0, 0.0015, 0.0027, 0.0045, 0.006, 0.0073, 0.0088, 0.01,
  0.0115, 0.0127, 0.0145, 0.0164, 0.018, 0.02,
  0.477, 0.4785, 0.4795, 0.481, 0.482, 0.4845, 0.4864, 0.4885, 0.4905, 0.4927,
  0.4945, 0.4964, 0.4975, 0.499, 0.5, 0.5015, 0.503, 0.5036, 0.506, 0.5082,
  0.51, 0.512, 0.5136, 0.515, 0.5165, 0.5182, 0.52,
  -0.427, -0.414, -0.364, -0.355, -0.325, -0.191, -0.091, 0.044, 0.09, 0.155, 0.27, 0.293, 0.385, 0.587];
const lc3EclMag = [9.97, 10.01, 10.03, 10.07, 10.106, 10.12, 10.16, 10.165, 10.19, 10.215,
  10.237, 10.26, 10.28, 10.29, 10.296, 10.302, 10.285, 10.27, 10.23, 10.21,
  10.182, 10.15, 10.118, 10.10, 10.077, 10.05, 10.03, 10.001, 9.985,
  9.99, 10.032, 10.06, 10.10, 10.13, 10.163, 10.2, 10.249, 10.265, 10.28,
  10.296, 10.30, 10.31, 10.295, 10.287, 10.237, 10.21, 10.163, 10.14, 10.11,
  10.095, 10.072, 10.05, 10.03, 10.005, 9.975,
  9.975, 10.02, 10.04, 10.08, 10.106, 10.14, 10.165, 10.19, 10.215, 10.237,
  10.26, 10.28, 10.29, 10.296, 10.29, 10.28, 10.255, 10.24, 10.21, 10.18,
  10.15, 10.12, 10.08, 10.06, 10.03, 10.0, 9.98,
  9.997, 9.891, 9.879, 10.007, 9.873, 9.883, 10.001, 10.041, 9.89, 9.896, 9.998, 9.887, 9.902, 9.999];
const lc3EclRes = [0.011, -0.016, 0.024, -0.008, 0.019, -0.027, 0.005, 0.031, -0.013, 0.016,
  -0.021, 0.009, -0.035, 0.022, 0.003, -0.018, 0.028, -0.010, 0.014, -0.024,
  0.036, -0.005, 0.012, -0.030, 0.020, 0.001, -0.015, 0.026, -0.009,
  0.018, -0.012, 0.025, -0.033, 0.007, 0.015, -0.020, 0.030, -0.004, 0.011,
  -0.028, 0.021, -0.041, 0.013, -0.007, 0.027, -0.017, 0.004, 0.034, -0.023,
  0.010, -0.002, 0.019, -0.031, 0.024, -0.014,
  0.006, -0.019, 0.029, -0.011, 0.017, -0.025, 0.038, -0.006, 0.012, -0.034,
  0.022, 0.002, -0.016, 0.026, -0.029, 0.014, -0.008, 0.031, -0.022, 0.009,
  -0.003, 0.020, -0.037, 0.015, -0.027, 0.008, 0.033,
  0.045, -0.052, 0.061, -0.059, 0.068, 0.039, -0.045, 0.057, -0.048, 0.033, -0.056, 0.073, -0.063, 0.024];

// ---------------- layout ----------------
const colLeft = [83, 753];
const frameW = 558;
const rowTop = [28, 568, 1108];
const mainH = 375, resH = 94;
const marginL = 82;
const tickFont = { family: 'DejaVu Sans', size: 17 };

// ---------------- helpers ----------------
const fmt = v => (v < 0 ? '\u2212' : '') + String(Math.abs(+Number(v).toFixed(3)));
const pts = (xs, ys) => xs.slice(0, Math.min(xs.length, ys.length)).map((x, i) => ({ x: x, y: ys[i] }));
const hline = v => [{ x: phaseMin, y: v }, { x: phaseMax, y: v }];

function line(data, extra) {
  return Object.assign({ data: data, showLine: true, pointRadius: 0, borderColor: '#111', borderWidth: 1,
    fill: false, tension: 0 }, extra || {});
}
function dots(data) {
  return { data: data, showLine: false, pointStyle: 'circle', pointRadius: 1.9, borderWidth: 1,
    borderColor: '#000', backgroundColor: 'rgba(255,255,255,0)' };
}
function marks(data, style, filled, errors) {
  return { data: data, showLine: false, pointStyle: style, pointRadius: 5, borderWidth: 1, borderColor: '#000',
    backgroundColor: filled ? '#000' : '#fff', errors: errors };
}

function starImage(size, filled) {
  const c = document.createElement('canvas');
  c.width = c.height = size;
  const g = c.getContext('2d');
  const R = size / 2 - 1, r = R * 0.42, cx = size / 2, cy = size / 2 + 0.5;
  g.beginPath();
  for (let k = 0; k < 10; k++) {
    const a = -Math.PI / 2 + k * Math.PI / 5, rad = k % 2 ? r : R;
    g.lineTo(cx + rad * Math.cos(a), cy + rad * Math.sin(a));
  }
  g.closePath();
  g.fillStyle = filled ? '#000' : '#fff';
  g.fill();
  g.lineWidth = 1;
  g.strokeStyle = '#000';
  g.stroke();
  return c;
}
const starFilled = starImage(12, true);
const starOpen = starImage(15, false);

function eachTick(min, max, minor, major, fn) {
  const n0 = Math.ceil(min / minor - 1e-6), n1 = Math.floor(max / minor + 1e-6);
  for (let n = n0; n <= n1; n++) {
    const v = n * minor, r = v / major;
    fn(v, Math.abs(r - Math.round(r)) < 1e-6);
  }
}

// frame with inward ticks on all four sides
const frameTicks = {
  id: 'frameTicks',
  afterDraw(chart, args, o) {
    const ctx = chart.ctx, a = chart.chartArea, x = chart.scales.x, y = chart.scales.y;
    ctx.save();
    ctx.strokeStyle = '#111';
    ctx.lineWidth = 1;
    const seg = (x0, y0, x1, y1) => { ctx.beginPath(); ctx.moveTo(x0, y0); ctx.lineTo(x1, y1); ctx.stroke(); };
    eachTick(x.min, x.max, o.xMinor, o.xMajor, (v, major) => {
      const px = Math.round(x.getPixelForValue(v)) + 0.5, L = major ? 9 : 5;
      seg(px, a.top, px, a.top + L);
      seg(px, a.bottom, px, a.bottom - L);
    });
    eachTick(y.min, y.max, o.yMinor, o.yMajor, (v, major) => {
      const py = Math.round(y.getPixelForValue(v)) + 0.5, L = major ? 9 : 5;
      seg(a.left, py, a.left + L, py);
      seg(a.right, py, a.right - L, py);
    });
    ctx.lineWidth = 1.3;
    ctx.strokeRect(a.left + 0.5, a.top + 0.5, a.right - a.left, a.bottom - a.top);
    ctx.restore();
  }
};

// vertical error bars for datasets carrying an "errors" array
const errorBars = {
  id: 'errorBars',
  beforeDatasetsDraw(chart) {
    const ctx = chart.ctx, a = chart.chartArea, x = chart.scales.x, y = chart.scales.y;
    ctx.save();
    ctx.beginPath();
    ctx.rect(a.left, a.top, a.right - a.left, a.bottom - a.top);
    ctx.clip();
    ctx.strokeStyle = '#111';
    ctx.lineWidth = 1;
    chart.data.datasets.forEach(ds => {
      if (!ds.errors) return;
      ds.data.forEach((p, i) => {
        const e = ds.errors[i];
        if (e == null) return;
        const px = Math.round(x.getPixelForValue(p.x)) + 0.5;
        ctx.beginPath();
        ctx.moveTo(px, y.getPixelForValue(p.y - e));
        ctx.lineTo(px, y.getPixelForValue(p.y + e));
        ctx.stroke();
      });
    });
    ctx.restore();
  }
};
Chart.register(frameTicks, errorBars);

function panel(col, row, part, yc, datasets) {
  const isMain = part === 'main';
  const h = isMain ? mainH : resH;
  const extra = isMain ? 4 : 40;
  const top = isMain ? rowTop[row] : rowTop[row] + mainH;
  const cv = document.createElement('canvas');
  cv.width = marginL + frameW + 4;
  cv.height = h + 4 + extra;
  cv.style.left = (colLeft[col] - marginL) + 'px';
  cv.style.top = (top - 4) + 'px';
  document.body.appendChild(cv);

  new Chart(cv, {
    type: 'scatter',
    data: { datasets: datasets },
    options: {
      responsive: false,
      animation: false,
      events: [],
      layout: { autoPadding: false, padding: { left: 0, right: 4, top: 4, bottom: 4 } },
      plugins: {
        legend: { display: false },
        tooltip: { enabled: false },
        frameTicks: { xMinor: 0.1, xMajor: 0.5, yMinor: yc.minor, yMajor: yc.major }
      },
      scales: {
        x: {
          type: 'linear', min: phaseMin, max: phaseMax, display: !isMain,
          grid: { display: false, drawTicks: false }, border: { display: false },
          ticks: { padding: 10, font: tickFont, color: '#222', autoSkip: false, maxRotation: 0, callback: fmt },
          afterBuildTicks: s => { s.ticks = phaseTicks.map(v => ({ value: v })); },
          afterFit: s => {
            s.height = isMain ? 0 : 36;
            s.paddingLeft = 0;
            s.paddingRight = 0;
          }
        },
        y: {
          type: 'linear', min: yc.min, max: yc.max, reverse: !!yc.reverse,
          grid: { display: false, drawTicks: false }, border: { display: false },
          ticks: { padding: 15, font: tickFont, color: '#222', autoSkip: false, callback: fmt },
          afterBuildTicks: s => { s.ticks = yc.labels.map(v => ({ value: v })); },
          afterFit: s => {
            s.width = marginL;
            s.paddingTop = 0;
            s.paddingBottom = 0;
          }
        }
      }
    }
  });
}

function label(html, x, y, cls) {
  const d = document.createElement('div');
  d.className = 'lbl' + (cls ? ' ' + cls : '');
  d.innerHTML = html;
  d.style.left = x + 'px';
  d.style.top = y + 'px';
  document.body.appendChild(d);
}

// ---------------- Row 1 ----------------
panel(0, 0, 'main', { min: -60, max: 171, minor: 10, major: 50, labels: [150, 100, 50, 0, -50] }, [
  marks(pts(rv1ObsPhase, rv1ObsPrim), starFilled, true),
  marks(pts(rv1ObsPhase, rv1ObsSec), starOpen, false),
  line(pts(rvGrid, rv1ModelPrim), { tension: 0.4 }),
  line(pts(rvGrid, rv1ModelSec), { tension: 0.4 }),
  line(hline(rv1Gamma), { borderDash: [16, 9], borderColor: '#444' })
]);
panel(0, 0, 'res', { min: -0.77, max: 0.77, minor: 0.1, major: 0.5, labels: [0.5, 0, -0.5] }, [
  marks(pts(rv1ObsPhase, rv1ResPrim), starFilled, true, rv1ErrPrim),
  marks(pts(rv1ObsPhase, rv1ResSec), starOpen, false, rv1ErrSec),
  line(hline(0), { borderDash: [16, 9], borderColor: '#444' })
]);
panel(1, 0, 'main', { min: 8.05, max: 9.049, reverse: true, minor: 0.1, major: 0.5, labels: [8.5, 9] }, [
  dots(pts(lc1Phase, lc1Mag)),
  dots(pts(lc1PhaseB, lc1MagB)),
  dots(pts(lc1EclPhase, lc1EclMag)),
  line(pts(lc1ModelPhase, lc1ModelMag), { borderWidth: 1.3 })
]);
panel(1, 0, 'res', { min: -0.093, max: 0.093, minor: 0.01, major: 0.05, labels: [0.05, 0, -0.05] }, [
  dots(pts(lc1Phase, lc1Res)),
  dots(pts(lc1PhaseB, lc1ResB)),
  dots(pts(lc1EclPhase, lc1EclRes)),
  line(hline(0), { borderColor: '#666', borderWidth: 1.5 })
]);

// ---------------- Row 2 ----------------
panel(0, 1, 'main', { min: -74.5, max: 109.8, minor: 10, major: 50, labels: [100, 50, 0, -50] }, [
  marks(pts(rv2StarPhase, rv2StarPrim), starFilled, true),
  marks(pts(rv2TriPhase, rv2TriPrim), 'triangle', true),
  marks(pts(rv2StarPhase, rv2StarSec), starOpen, false),
  marks(pts(rv2TriPhase, rv2TriSec), 'triangle', false),
  line(pts(rv2Grid, rv2ModelPrim), { tension: 0.4 }),
  line(pts(rv2Grid, rv2ModelSec), { tension: 0.4 }),
  line(hline(rv2Gamma), { borderDash: [16, 9], borderColor: '#444' })
]);
panel(0, 1, 'res', { min: -0.9, max: 0.9, minor: 0.1, major: 0.5, labels: [0.5, 0, -0.5] }, [
  marks(pts(rv2StarPhase, rv2StarResPrim), starFilled, true, rv2ErrStar),
  marks(pts(rv2TriPhase, rv2TriResPrim), 'triangle', true, rv2ErrTriPrim),
  marks(pts(rv2StarPhase, rv2StarResSec), starOpen, false, rv2ErrStar),
  marks(pts(rv2TriPhase, rv2TriResSec), 'triangle', false, rv2ErrTriSec),
  line(hline(0), { borderDash: [16, 9], borderColor: '#444' })
]);
panel(1, 1, 'main', { min: 10.142, max: 10.72, reverse: true, minor: 0.1, major: 0.2, labels: [10.2, 10.4, 10.6] }, [
  dots(pts(lc2Phase, lc2Mag)),
  dots(pts(lc2PhaseB, lc2MagB)),
  dots(pts(lc2EclPhase, lc2EclMag)),
  line(pts(lc2ModelPhase, lc2ModelMag), { borderWidth: 1.3 })
]);
panel(1, 1, 'res', { min: -0.1, max: 0.1, minor: 0.01, major: 0.05, labels: [0.05, 0, -0.05] }, [
  dots(pts(lc2Phase, lc2Res)),
  dots(pts(lc2PhaseB, lc2ResB)),
  dots(pts(lc2EclPhase, lc2EclRes)),
  line(hline(0), { borderColor: '#666', borderWidth: 1.5 })
]);

// ---------------- Row 3 ----------------
panel(0, 2, 'main', { min: -75.2, max: 125.1, minor: 10, major: 50, labels: [100, 50, 0, -50] }, [
  marks(pts(rv3StarPhasePrim, rv3StarPrim), starFilled, true),
  marks(pts(rv3TriPhasePrim, rv3TriPrim), 'triangle', true),
  marks(pts(rv3StarPhaseSec, rv3StarSec), starOpen, false),
  marks(pts(rv3TriPhaseSec, rv3TriSec), 'triangle', false),
  line(pts(rvGrid, rv3ModelPrim), { tension: 0.4 }),
  line(pts(rvGrid, rv3ModelSec), { tension: 0.4 }),
  line(hline(rv3Gamma), { borderDash: [16, 9], borderColor: '#444' })
]);
panel(0, 2, 'res', { min: -1.3, max: 1.1, minor: 0.1, major: 0.5, labels: [1, 0.5, 0, -0.5, -1] }, [
  marks(pts(rv3StarPhasePrim, rv3StarResPrim), starFilled, true, rv3StarErrPrim),
  marks(pts(rv3TriPhasePrim, rv3TriResPrim), 'triangle', true, rv3TriErrPrim),
  marks(pts(rv3StarPhaseSec, rv3StarResSec), starOpen, false, rv3StarErrSec),
  marks(pts(rv3TriPhaseSec, rv3TriResSec), 'triangle', false, rv3TriErrSec),
  line(hline(0), { borderDash: [16, 9], borderColor: '#444' })
]);
panel(1, 2, 'main', { min: 9.843, max: 10.345, reverse: true, minor: 0.1, major: 0.2, labels: [10, 10.2] }, [
  dots(pts(lc3Phase, lc3Mag)),
  dots(pts(lc3PhaseB, lc3MagB)),
  dots(pts(lc3EclPhase, lc3EclMag)),
  line(pts(lc3ModelPhase, lc3ModelMag), { borderWidth: 1.3 })
]);
panel(1, 2, 'res', { min: -0.107, max: 0.107, minor: 0.01, major: 0.05, labels: [0.05, 0, -0.05] }, [
  dots(pts(lc3Phase, lc3Res)),
  dots(pts(lc3PhaseB, lc3ResB)),
  dots(pts(lc3EclPhase, lc3EclRes)),
  line(hline(0), { borderColor: '#666', borderWidth: 1.5 })
]);

// ---------------- text ----------------
const titles = ['ASAS J053003\u22127614.9', 'ASAS J071626+0548.8', 'ASAS J085524\u22124411.3'];
const rms = [['0.21', '0.27'], ['0.34', '0.29'], ['0.20', '0.14']];
titles.forEach((t, r) => {
  const off = r * 540;
  label(t, 697, 15 + off, 'title');
  label('rms<sub>1</sub> = ' + rms[r][0] + ' km s<sup>\u22121</sup>; rms<sub>2</sub> = ' + rms[r][1] +
    ' km s<sup>\u22121</sup>', 106, 46 + off, 'rms');
  label('RV [km s<sup>\u22121</sup>]', 25, 215 + off, 'rot');
  label('m<sub>V</sub> [mag]', 684, 215 + off, 'rot');
  label('|O\u2212C', 23, 450 + off, 'rot');
  label('|O\u2212C', 683, 450 + off, 'rot');
  label('Phase', 362, 534 + off);
  label('Phase', 1032, 534 + off);
});
</script>
</body>
</html>
